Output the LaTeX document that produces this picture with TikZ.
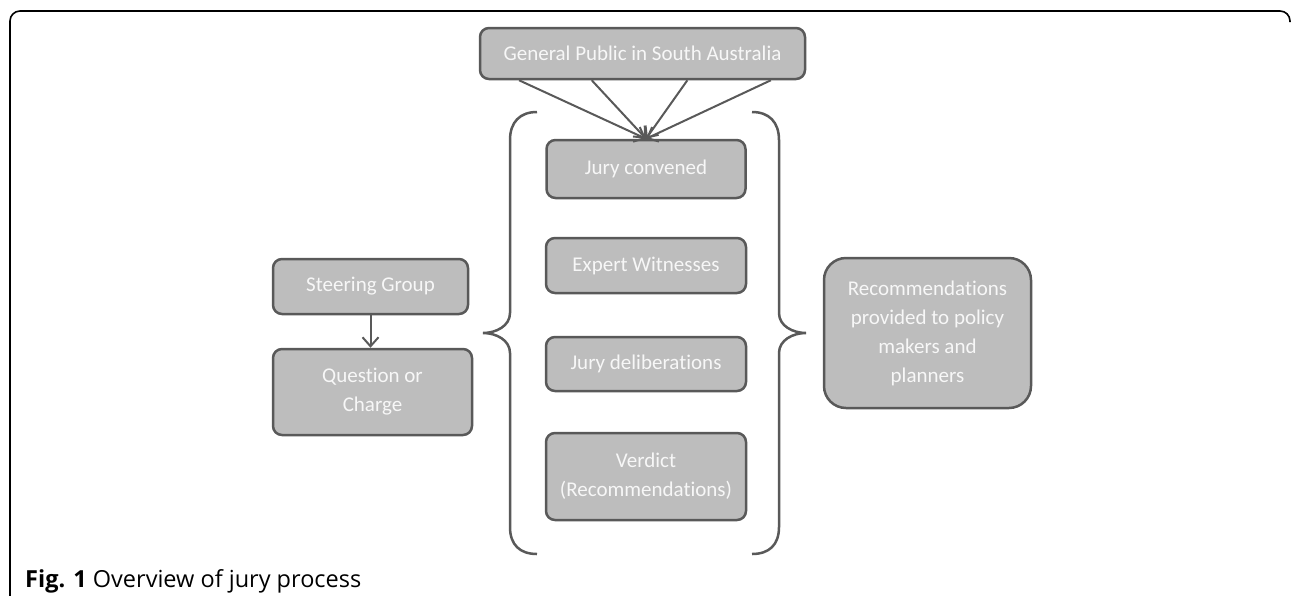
\documentclass[tikz,border=0pt]{standalone}
\usepackage{fontspec}
\newfontfamily\boxfont[Ligatures=NoCommon]{Carlito}
\newfontfamily\capfont{Open Sans}
\usetikzlibrary{arrows.meta,calc}
\definecolor{boxfill}{HTML}{BDBDBD}
\definecolor{boxline}{HTML}{595959}
\definecolor{boxtext}{HTML}{F7F7F7}
\tikzset{
  jbox/.style={draw=boxline, fill=boxfill, line width=2.5pt, rounded corners=9pt,
    text=boxtext, font=\boxfont\fontsize{21}{29}\selectfont, align=center, inner sep=0pt},
  arr/.style={draw=boxline, line width=2pt, -{Straight Barb[length=9pt,width=16pt,line width=2pt]}},
  brace/.style={draw=boxline, line width=2.5pt},
  frame/.style={draw=black, line width=1.6pt}
}
\begin{document}
\begin{tikzpicture}[x=1pt,y=-1pt]
\useasboundingbox (0,0) rectangle (1293,595);
% frame
\draw[frame, rounded corners=10pt] (10,596) -- (10,11) -- (1290,11) -- (1290,22);
% nodes
\node[jbox, minimum width=325pt, minimum height=51pt] (gp) at (642.5,53.5) {General Public in South Australia};
\node[jbox, minimum width=199pt, minimum height=58pt] (jc) at (646,169) {Jury convened};
\node[jbox, minimum width=200pt, minimum height=55pt] (ew) at (646,265.5) {Expert Witnesses};
\node[jbox, minimum width=200pt, minimum height=54pt] (jd) at (646,364) {Jury deliberations};
\node[jbox, minimum width=200pt, minimum height=87pt] (vd) at (646,476.5) {Verdict\\(Recommendations)};
\node[jbox, minimum width=195pt, minimum height=55pt] (sg) at (370.5,286.5) {Steering Group};
\node[jbox, minimum width=199pt, minimum height=86pt] (qc) at (372.5,392) {Question or\\Charge};
\node[jbox, rounded corners=22pt, minimum width=207pt, minimum height=150pt] (rec) at (927.5,333) {Recommendations\\provided to policy\\makers and\\planners};
% arrows
\draw[arr] ($(gp.south west)!0.123!(gp.south east)$) -- (jc.north);
\draw[arr] ($(gp.south west)!0.345!(gp.south east)$) -- (jc.north);
\draw[arr] ($(gp.south west)!0.637!(gp.south east)$) -- (jc.north);
\draw[arr] ($(gp.south west)!0.892!(gp.south east)$) -- (jc.north);
\draw[arr] (sg.south) -- (sg.south |- qc.north);
% braces
\coordinate (ltip) at (483,333);
\coordinate (rtip) at (806,333);
\draw[brace] (537,112) .. controls (520,112) and (510,122) .. (510,140) -- (510,313)
  .. controls (510,326) and (496,333) .. (ltip)
  .. controls (496,333) and (510,340) .. (510,353) -- (510,527)
  .. controls (510,545) and (520,554) .. (537,554);
\draw[brace] (752,112) .. controls (769,112) and (779,122) .. (779,140) -- (779,313)
  .. controls (779,326) and (793,333) .. (rtip)
  .. controls (793,333) and (779,340) .. (779,353) -- (779,527)
  .. controls (779,545) and (769,554) .. (752,554);
% caption
\node[anchor=base west, inner sep=0pt, font=\capfont\fontsize{23.5}{28}\selectfont] (cap) at (25,587) {\textbf{Fig. 1} Overview of jury process};
\end{tikzpicture}
\end{document}
